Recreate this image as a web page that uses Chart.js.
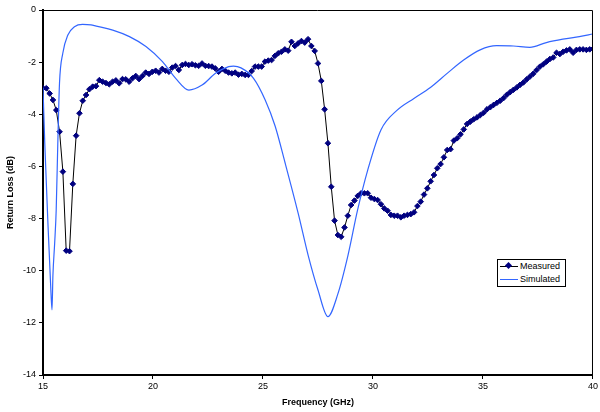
<!DOCTYPE html>
<html>
<head>
<meta charset="utf-8">
<script src="https://cdn.jsdelivr.net/npm/chart.js@4.4.1/dist/chart.umd.min.js"></script>
<style>
  body { margin: 0; background: #fff; }
  #wrap { position: relative; width: 600px; height: 412px; }
  #legend {
    position: absolute; left: 497px; top: 259px; width: 67px; height: 26px;
    border: 1px solid #000; background: #fff;
    font: 9px "Liberation Sans", Arial, sans-serif; color: #000;
  }
  #legend .row { height: 13px; line-height: 13px; white-space: nowrap; }
  #legend .key {
    display: inline-block; position: relative; width: 18px; height: 0;
    margin: 0 2px 0 2px; vertical-align: middle; border-top: 1px solid;
  }
  #legend .meas { border-color: #000; }
  #legend .meas::after {
    content: ""; position: absolute; left: 6px; top: -4px; width: 5px; height: 5px;
    background: #000080; transform: rotate(45deg);
  }
  #legend .sim { border-color: #3366ff; }
</style>
</head>
<body>
<div id="wrap">
  <canvas id="lossChart" width="600" height="412"></canvas>
  <div id="legend">
    <div class="row"><span class="key meas"></span>Measured</div>
    <div class="row"><span class="key sim"></span>Simulated</div>
  </div>
</div>
<script>
// measured sweep, 15 - 40 GHz, evenly spaced points
const measLoss = [
  -3.00, -3.00, -3.20, -3.45, -3.84, -4.67, -6.20, -9.23, -9.25, -6.67,
  -4.82, -3.96, -3.48, -3.26, -3.04, -2.94, -2.92, -2.69, -2.75, -2.80,
  -2.85, -2.75, -2.70, -2.81, -2.65, -2.66, -2.75, -2.62, -2.53, -2.65,
  -2.53, -2.40, -2.45, -2.37, -2.33, -2.40, -2.26, -2.33, -2.37, -2.21,
  -2.15, -2.30, -2.11, -2.07, -2.11, -2.08, -2.12, -2.14, -2.05, -2.14,
  -2.15, -2.17, -2.24, -2.37, -2.26, -2.33, -2.40, -2.43, -2.40, -2.48,
  -2.45, -2.49, -2.49, -2.34, -2.17, -2.17, -2.17, -1.98, -1.94, -1.92,
  -1.76, -1.66, -1.60, -1.51, -1.56, -1.22, -1.38, -1.28, -1.19, -1.25,
  -1.12, -1.38, -1.57, -2.05, -2.72, -3.81, -5.11, -6.78, -8.08, -8.63,
  -8.70, -8.34, -7.89, -7.48, -7.31, -7.13, -7.03, -7.03, -7.03, -7.20,
  -7.25, -7.29, -7.45, -7.61, -7.70, -7.86, -7.89, -7.89, -7.95, -7.89,
  -7.86, -7.83, -7.76, -7.52, -7.35, -7.08, -6.84, -6.57, -6.33, -6.07,
  -5.91, -5.65, -5.37, -5.34, -5.01, -4.92, -4.77, -4.58, -4.37, -4.28,
  -4.19, -4.12, -4.03, -3.94, -3.81, -3.73, -3.64, -3.56, -3.48, -3.38,
  -3.25, -3.15, -3.06, -2.97, -2.87, -2.78, -2.66, -2.55, -2.44, -2.30,
  -2.17, -2.08, -1.98, -1.88, -1.82, -1.64, -1.69, -1.60, -1.55, -1.51,
  -1.64, -1.53, -1.51, -1.51, -1.53, -1.51, -1.49
];
const measFreq = measLoss.map((_, i) => 15 + (i * 25) / (measLoss.length - 1));

// simulated response
const simFreq = [
  15.00, 15.08, 15.23, 15.35, 15.41, 15.45, 15.53, 15.60, 15.68, 15.75,
  15.90, 16.13, 16.43, 16.80, 17.18, 17.42, 18.17, 18.93, 19.68, 20.43,
  21.03, 21.63, 22.23, 22.84, 23.44, 23.66, 24.00, 24.57, 25.10, 25.55,
  26.00, 26.60, 27.05, 27.50, 27.95, 28.40, 28.85, 29.30, 29.76, 30.36,
  31.10, 31.86, 32.61, 33.37, 34.12, 34.87, 35.62, 36.38, 37.13, 37.88,
  38.63, 39.38, 40.00
];
const simLoss = [
  -2.98, -5.10, -8.30, -10.60, -11.50, -10.20, -8.95, -7.67, -4.86, -2.81,
  -1.66, -0.96, -0.64, -0.55, -0.57, -0.62, -0.77, -1.02, -1.40, -1.98,
  -2.62, -3.07, -2.88, -2.43, -2.17, -2.15, -2.22, -2.62, -3.45, -4.45,
  -5.85, -7.80, -9.40, -10.74, -11.76, -10.90, -9.46, -7.67, -6.14, -4.60,
  -3.84, -3.39, -2.97, -2.43, -1.92, -1.53, -1.37, -1.38, -1.43, -1.25,
  -1.12, -1.02, -0.92
];

const xTicks = [15, 20, 25, 30, 35, 40];
const yTicks = [0, -2, -4, -6, -8, -10, -12, -14];

Chart.defaults.font.family = '"Liberation Sans", Arial, sans-serif';
Chart.defaults.color = "#000";

// thin frame along the top and right of the plot area
const plotFrame = {
  id: "plotFrame",
  afterDatasetsDraw(chart) {
    const { ctx, chartArea: a } = chart;
    ctx.save();
    ctx.strokeStyle = "#000";
    ctx.lineWidth = 1;
    ctx.beginPath();
    ctx.moveTo(a.left, a.top + 0.5);
    ctx.lineTo(a.right - 0.5, a.top + 0.5);
    ctx.lineTo(a.right - 0.5, a.bottom);
    ctx.stroke();
    ctx.restore();
  },
};

const ctx = document.getElementById("lossChart").getContext("2d");
const lossChart = new Chart(ctx, {
  type: "line",
  data: {
    datasets: [
      {
        label: "Measured",
        data: measFreq.map((f, i) => ({ x: f, y: measLoss[i] })),
        borderColor: "#000",
        borderWidth: 1,
        pointStyle: "rectRot",
        pointRadius: 2.8,
        pointBackgroundColor: "#000080",
        pointBorderColor: "#000080",
        pointBorderWidth: 1,
        tension: 0,
        order: 2,
      },
      {
        label: "Simulated",
        data: simFreq.map((f, i) => ({ x: f, y: simLoss[i] })),
        borderColor: "#3366ff",
        borderWidth: 1.2,
        pointRadius: 0,
        cubicInterpolationMode: "monotone",
        order: 1,
      },
    ],
  },
  options: {
    responsive: false,
    animation: false,
    layout: { padding: { top: 10, right: 3 } },
    plugins: {
      legend: { display: false },
      tooltip: { enabled: false },
    },
    scales: {
      x: {
        type: "linear",
        min: 15,
        max: 40,
        afterBuildTicks: (s) => { s.ticks = xTicks.map((v) => ({ value: v })); },
        ticks: { font: { size: 9 }, padding: 2, maxRotation: 0 },
        grid: { drawOnChartArea: false, color: "#000", tickLength: 4 },
        border: { color: "#000", width: 2 },
        title: {
          display: true,
          text: "Frequency (GHz)",
          font: { size: 9, weight: "bold" },
          padding: { top: 8 },
        },
        afterFit: (s) => { s.height = 37; },
      },
      y: {
        min: -14,
        max: 0,
        afterBuildTicks: (s) => { s.ticks = yTicks.map((v) => ({ value: v })); },
        ticks: { font: { size: 9 }, padding: 3 },
        grid: { drawOnChartArea: false, color: "#000", tickLength: 4 },
        border: { color: "#000", width: 2 },
        title: {
          display: true,
          text: "Return Loss (dB)",
          font: { size: 9, weight: "bold" },
          padding: { top: 5, bottom: 2 },
        },
        afterFit: (s) => { s.width = 43; },
      },
    },
  },
  plugins: [plotFrame],
});
</script>
</body>
</html>
